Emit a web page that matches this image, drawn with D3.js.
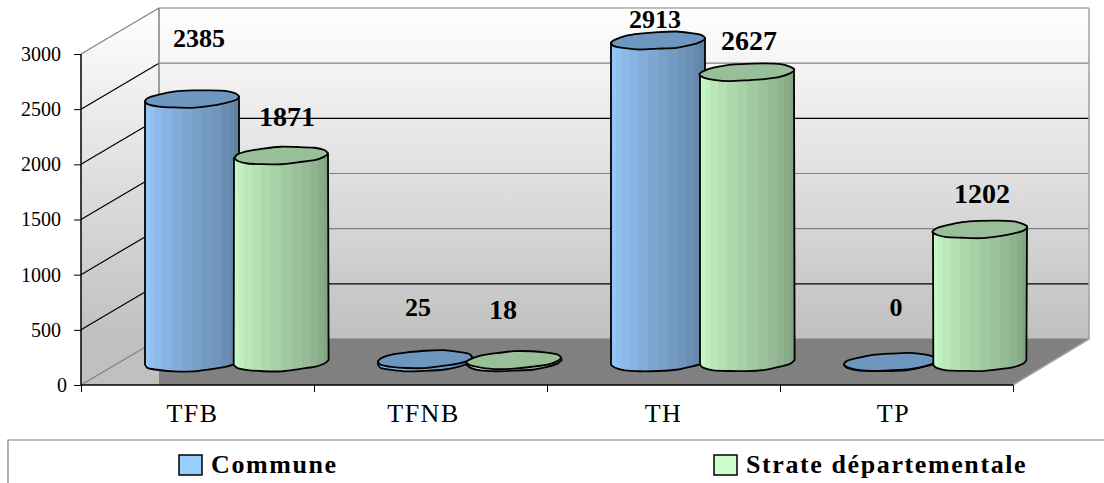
<!DOCTYPE html>
<html>
<head>
  <title>Commune / Strate départementale</title>
  <meta charset="utf-8">
  <style>
    html, body { margin: 0; padding: 0; background: #fff; }
    svg { display: block; }
    text { font-family: "Liberation Serif", serif; fill: #000; }
    .axis path { display: none; }
    .value { font-weight: bold; text-anchor: middle; }
    .legend-label { font-size: 26px; font-weight: bold; letter-spacing: 1.6px; }
  </style>
  <script src="https://d3js.org/d3.v7.min.js"></script>
</head>
<body>
  <div id="chart"></div>
  <script>
    const categories = ['TFB', 'TFNB', 'TH', 'TP'];
    const seriesNames = ['Commune', 'Strate départementale'];
    const commune = [2385, 25, 2913, 0];
    const strate = [1871, 18, 2627, 1202];
    const yTicks = [0, 500, 1000, 1500, 2000, 2500, 3000];

    // the labels were placed by hand in the original, so [dx, dy] from the top of each cylinder
    const communeLabelShift = [[7, -52], [-7, -43], [-3, -13], [5, -46]];
    const strateLabelShift = [[6, -30], [-11, -41], [2, -22], [2, -26]];
    const categoryLabelShift = [-5, -7, 0, -3];

    const width = 1104, height = 483;
    const front = { left: 81, right: 1013, bottom: 385, top: 54 };
    const depth = { x: 78, y: -46 };
    const radius = 47, flat = 8.5, tilt = 0.05;
    const wobble = [1, 1.04, 0.97, 1.02, 1.05, 0.98, 1, 1.04, 0.95, 1.02, 0.98, 1.04, 1, 0.96, 1.04, 1];

    const svg = d3.select('#chart').append('svg')
      .attr('width', width)
      .attr('height', height);

    const x0 = d3.scaleBand().domain(categories).range([front.left, front.right]);
    const x1 = d3.scaleBand().domain(seriesNames).range([-89, 89]);
    const y = d3.scaleLinear().domain([0, 3000]).range([front.bottom, front.top]);

    const defs = svg.append('defs');

    function wallGradient(id, y1, y2) {
      const g = defs.append('linearGradient').attr('id', id)
        .attr('gradientUnits', 'userSpaceOnUse')
        .attr('x1', 0).attr('x2', 0).attr('y1', y1).attr('y2', y2);
      g.append('stop').attr('offset', 0).attr('stop-color', '#ffffff');
      g.append('stop').attr('offset', 1).attr('stop-color', '#c0c0c0');
    }
    wallGradient('backWall', y(3000) + depth.y, y(0) + depth.y);
    wallGradient('sideWall', y(3000) + depth.y, y(0) + depth.y);

    // cylinder shading comes in narrow facets, tighter towards the edges
    function facetGradient(id, from, to) {
      const g = defs.append('linearGradient').attr('id', id);
      const n = 14, mix = d3.interpolateRgb(from, to);
      d3.range(n).forEach(i => {
        const a = (1 - Math.cos(Math.PI * i / n)) / 2;
        const b = (1 - Math.cos(Math.PI * (i + 1) / n)) / 2;
        const c = mix(i / (n - 1));
        g.append('stop').attr('offset', a).attr('stop-color', c);
        g.append('stop').attr('offset', b).attr('stop-color', c);
      });
    }
    facetGradient('bodyCommune', '#99ccff', '#5c7c9c');
    facetGradient('bodyStrate', '#ccffcc', '#7c9c7c');

    // walls and floor
    const wallX = front.left + depth.x;
    const backRight = front.right + depth.x - 2;
    const backTop = y(3000) + depth.y, backBottom = y(0) + depth.y;

    svg.append('rect')
      .attr('x', wallX).attr('y', backTop)
      .attr('width', backRight - wallX).attr('height', backBottom - backTop)
      .attr('fill', 'url(#backWall)');

    svg.append('polygon')
      .attr('points', [[front.left, y(3000)], [wallX, backTop], [wallX, y(0)], [front.left, y(0)]].join(' '))
      .attr('fill', 'url(#sideWall)');

    svg.append('polygon')
      .attr('points', [[wallX, backBottom], [backRight, backBottom], [front.right, y(0)], [wallX, y(0)]].join(' '))
      .attr('fill', '#808080');

    // gridlines, some came out black and some grey in the source picture
    const gridColor = { 0: '#808080', 500: '#000', 1000: '#808080', 1500: '#808080', 2000: '#000', 2500: '#808080', 3000: '#808080' };
    const sideColor = { 0: '#808080', 500: '#000', 1000: '#000', 1500: '#000', 2000: '#000', 2500: '#000', 3000: '#808080' };

    svg.append('g').selectAll('line')
      .data(yTicks)
      .enter().append('line')
        .attr('x1', wallX).attr('x2', backRight)
        .attr('y1', d => y(d) + depth.y).attr('y2', d => y(d) + depth.y)
        .attr('stroke', d => gridColor[d])
        .attr('stroke-width', 1.2);

    svg.append('g').selectAll('line')
      .data(yTicks)
      .enter().append('line')
        .attr('x1', front.left).attr('x2', wallX)
        .attr('y1', d => y(d)).attr('y2', d => y(d) + depth.y)
        .attr('stroke', d => sideColor[d])
        .attr('stroke-width', 1.2);

    svg.append('path')
      .attr('d', `M${wallX},${backBottom}V${backTop}`)
      .attr('stroke', '#808080').attr('stroke-width', 1.5).attr('fill', 'none');
    svg.append('path')
      .attr('d', `M${backRight},${backTop}V${backBottom}L${front.right},${y(0)}`)
      .attr('stroke', '#a0a0a0').attr('stroke-width', 1.5).attr('fill', 'none');

    // axes
    const yAxis = svg.append('g')
      .attr('class', 'axis')
      .attr('transform', `translate(${front.left},0)`)
      .call(d3.axisLeft(y).tickValues(yTicks).tickFormat(d3.format('d')).tickSize(7).tickPadding(13));
    yAxis.selectAll('text')
      .style('font-size', '20px')
      .style('font-family', '"Liberation Serif", serif')
      .attr('dx', d => d === 0 ? 6 : 0);

    const xEdges = d3.scalePoint().domain(d3.range(categories.length + 1)).range([front.left, front.right]);
    svg.append('g')
      .attr('class', 'axis')
      .attr('transform', `translate(0,${front.bottom})`)
      .call(d3.axisBottom(xEdges).tickSize(7).tickFormat(''));

    const xAxis = svg.append('g')
      .attr('class', 'axis')
      .attr('transform', `translate(0,${front.bottom})`)
      .call(d3.axisBottom(x0).tickSize(0).tickPadding(19));
    xAxis.selectAll('text')
      .style('font-size', '26px')
      .style('font-family', '"Liberation Serif", serif')
      .style('letter-spacing', '1.5px')
      .attr('dx', (d, i) => categoryLabelShift[i]);

    svg.append('line')
      .attr('x1', front.left).attr('x2', front.right)
      .attr('y1', front.bottom).attr('y2', front.bottom)
      .attr('stroke', '#000').attr('stroke-width', 1.5);
    svg.append('line')
      .attr('x1', front.left).attr('x2', front.left)
      .attr('y1', y(3000)).attr('y2', y(0))
      .attr('stroke', '#000').attr('stroke-width', 1.5);

    // cylinders
    const bars = [];
    categories.forEach((c, i) => {
      bars.push({ cat: c, name: seriesNames[0], value: commune[i], shift: communeLabelShift[i], size: 26, body: 'url(#bodyCommune)', top: '#6d97bf' });
      bars.push({ cat: c, name: seriesNames[1], value: strate[i], shift: strateLabelShift[i], size: 28, body: 'url(#bodyStrate)', top: '#99bf99' });
    });

    function ringPoint(cx, cy, t, k) {
      const w = wobble[k % wobble.length];
      const dx = radius * Math.cos(t) * (k % 2 ? 1 + (w - 1) / 3 : 1);
      return [cx + dx, cy + flat * Math.sin(t) * w - tilt * dx];
    }
    const ring = d3.line().curve(d3.curveCardinalClosed.tension(0.4));
    const arc = d3.line().curve(d3.curveCardinal.tension(0.4));

    bars.forEach((d, i) => {
      const cx = x0(d.cat) + x0.bandwidth() / 2 + depth.x / 2 + x1(d.name) + x1.bandwidth() / 2;
      const baseY = y(0) + depth.y / 2 + 0.5;
      const topY = y(d.value) + depth.y / 2;

      const bottom = d3.range(9).map(k => ringPoint(cx, baseY, Math.PI - k * Math.PI / 8, k + i * 3));
      const left = [cx - radius, topY + tilt * radius];
      const right = [cx + radius, topY - tilt * radius];

      svg.append('path')
        .attr('d', `M${right}L${left}` + arc(bottom).replace('M', 'L') + 'Z')
        .attr('fill', d.body)
        .attr('stroke', '#000')
        .attr('stroke-width', 1.8)
        .attr('stroke-linejoin', 'round');

      svg.append('path')
        .attr('d', ring(d3.range(16).map(k => ringPoint(cx, topY, k * Math.PI / 8, k + i * 5))))
        .attr('fill', d.top)
        .attr('stroke', '#000')
        .attr('stroke-width', 1.8);

      d.cx = cx;
      d.topY = topY;
    });

    svg.append('g').selectAll('text')
      .data(bars)
      .enter().append('text')
        .attr('class', 'value')
        .attr('x', d => d.cx + d.shift[0])
        .attr('y', d => d.topY + d.shift[1])
        .style('font-size', d => d.size + 'px')
        .text(d => d.value);

    // legend, its box runs off the picture to the right and below
    svg.append('path')
      .attr('d', `M${width},440H8V${height}`)
      .attr('fill', 'none')
      .attr('stroke', '#808080')
      .attr('stroke-width', 1.2);

    const legendX = d3.scaleOrdinal().domain(seriesNames).range([179, 714]);
    const legendFill = d3.scaleOrdinal().domain(seriesNames).range(['#99ccff', '#ccffcc']);

    svg.append('g').selectAll('rect')
      .data(seriesNames)
      .enter().append('rect')
        .attr('x', d => legendX(d))
        .attr('y', 455)
        .attr('width', 23)
        .attr('height', 20)
        .attr('fill', d => legendFill(d))
        .attr('stroke', '#000')
        .attr('stroke-width', 1.5);

    svg.append('g').selectAll('text')
      .data(seriesNames)
      .enter().append('text')
        .attr('class', 'legend-label')
        .attr('x', d => legendX(d) + 32)
        .attr('y', 473)
        .text(d => d);
  </script>
</body>
</html>
